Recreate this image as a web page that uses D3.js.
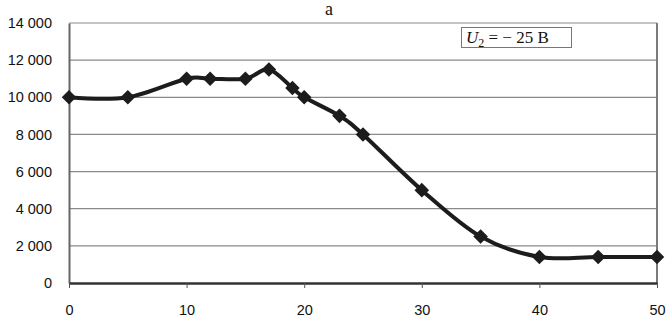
<!DOCTYPE html>
<html>
<head>
<meta charset="utf-8">
<script src="https://cdn.jsdelivr.net/npm/d3@7"></script>
<style>
  body { margin: 0; background: #fff; }
  svg { display: block; }
</style>
</head>
<body>
<svg id="drawing_region"></svg>
<script>
// data
const xValues = [0, 5, 10, 12, 15, 17, 19, 20, 23, 25, 30, 35, 40, 45, 50];
const yValues = [10000, 10000, 11000, 11000, 11000, 11500, 10500, 10000, 9000, 8000, 5000, 2500, 1400, 1400, 1400];
const xTicks = [0, 10, 20, 30, 40, 50];
const yTicks = [0, 2000, 4000, 6000, 8000, 10000, 12000, 14000];
const titleText = "a";

const width = 670, height = 326;
const margin = {top: 23, right: 13, bottom: 43, left: 69};

const svg = d3.select('#drawing_region')
    .attr('width', width)
    .attr('height', height);

const chart = svg.append('g')
    .attr('transform', `translate(${margin.left}, ${margin.top})`);

const inner_width = width - margin.left - margin.right;
const inner_height = height - margin.top - margin.bottom;

const xscale = d3.scaleLinear().domain([0, 50]).range([0, inner_width]);
const yscale = d3.scaleLinear().domain([0, 14000]).range([inner_height, 0]);

const fmt = d => d3.format(',')(d).replace(',', ' ');

// gridlines
chart.append('g')
    .selectAll('line')
    .data(yTicks.filter(d => d > 0))
    .join('line')
    .attr('x1', 0)
    .attr('x2', inner_width)
    .attr('y1', d => yscale(d))
    .attr('y2', d => yscale(d))
    .attr('stroke', '#8a8a8a')
    .attr('stroke-width', 1.2);

// right border
chart.append('line')
    .attr('x1', inner_width).attr('x2', inner_width)
    .attr('y1', 0).attr('y2', inner_height)
    .attr('stroke', '#7a7a7a')
    .attr('stroke-width', 2);

// y axis
const yaxis_group = chart.append('g')
    .call(d3.axisLeft(yscale).tickValues(yTicks).tickFormat(fmt).tickSize(0).tickPadding(17));
yaxis_group.select('.domain').attr('stroke', '#666').attr('stroke-width', 2);
yaxis_group.selectAll('text')
    .attr('font-family', 'Liberation Sans, Arial, sans-serif')
    .attr('font-size', '14.5px')
    .attr('fill', '#111');

// x axis
const xaxis_group = chart.append('g')
    .attr('transform', `translate(0, ${inner_height})`)
    .call(d3.axisBottom(xscale).tickValues(xTicks).tickSize(5).tickPadding(17).tickSizeOuter(0));
xaxis_group.select('.domain').attr('stroke', '#333').attr('stroke-width', 2.5);
xaxis_group.selectAll('.tick line').attr('stroke', '#555');
xaxis_group.selectAll('text')
    .attr('font-family', 'Liberation Sans, Arial, sans-serif')
    .attr('font-size', '14.5px')
    .attr('fill', '#111');

// line
const points = xValues.map((x, i) => ({x: x, y: yValues[i]}));
const line = d3.line()
    .x(d => xscale(d.x))
    .y(d => yscale(d.y))
    .curve(d3.curveCardinal.tension(0));

chart.append('path')
    .datum(points)
    .attr('d', line)
    .attr('fill', 'none')
    .attr('stroke', '#1c1c1c')
    .attr('stroke-width', 4)
    .attr('stroke-linejoin', 'round');

// diamond markers
const diamond = d3.symbol().type(d3.symbolDiamond2).size(135);
chart.selectAll('.marker')
    .data(points)
    .join('path')
    .attr('class', 'marker')
    .attr('d', diamond)
    .attr('transform', d => `translate(${xscale(d.x)}, ${yscale(d.y)})`)
    .attr('fill', '#1c1c1c');

// title
svg.append('text')
    .attr('x', 329)
    .attr('y', 15)
    .attr('text-anchor', 'middle')
    .attr('font-family', 'Liberation Serif, Times New Roman, serif')
    .attr('font-size', '18px')
    .attr('fill', '#111')
    .text(titleText);

// legend box
const lg = svg.append('g');
lg.append('rect')
    .attr('x', 461.5).attr('y', 27.5)
    .attr('width', 110).attr('height', 20)
    .attr('fill', '#fff')
    .attr('stroke', '#777')
    .attr('stroke-width', 1);
const lt = lg.append('text')
    .attr('x', 466)
    .attr('y', 43)
    .attr('font-family', 'Liberation Serif, Times New Roman, serif')
    .attr('font-size', '17px')
    .attr('fill', '#111');
lt.append('tspan').attr('font-style', 'italic').text('U');
lt.append('tspan').attr('font-size', '12px').attr('dy', 4).text('2');
lt.append('tspan').attr('dy', -4).text(' = − 25 B');
</script>
</body>
</html>
